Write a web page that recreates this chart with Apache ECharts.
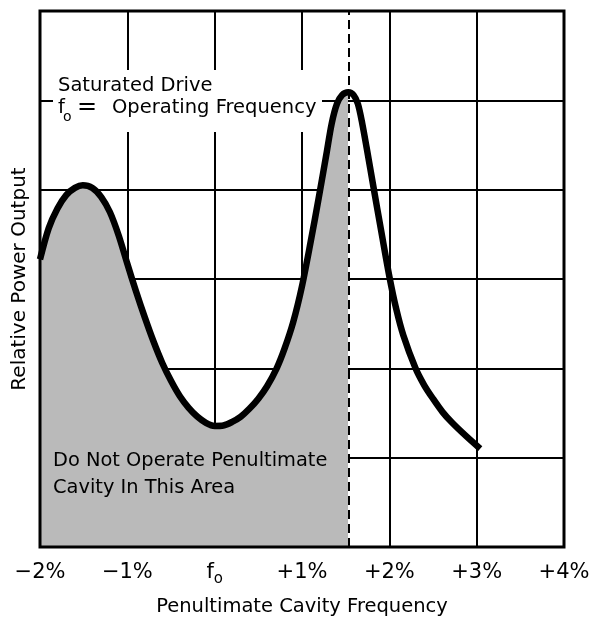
<!DOCTYPE html>
<html>
<head>
<meta charset="utf-8">
<script src="https://cdn.jsdelivr.net/npm/echarts@6/dist/echarts.min.js"></script>
<style>
html,body{margin:0;padding:0;background:#fff;}
#chart{width:596px;height:617px;}
</style>
</head>
<body>
<div id="chart"></div>
<script>
// Curve: x = % offset from operating frequency, y = relative power (grid units)
const freqOffset = [-2.0, -1.9, -1.8, -1.7, -1.6, -1.51, -1.4, -1.3, -1.2, -1.1, -1.0, -0.9, -0.8, -0.7, -0.6, -0.5, -0.4, -0.3, -0.2, -0.1,
                    0.0, 0.1, 0.2, 0.3, 0.4, 0.5, 0.6, 0.71, 0.8, 0.9, 1.0, 1.1, 1.19, 1.28, 1.34, 1.40, 1.46, 1.53,
                    1.59, 1.64, 1.69, 1.74, 1.82, 1.91, 2.0, 2.08, 2.16, 2.30, 2.40, 2.50, 2.61, 2.72, 2.88, 3.04];
const relPower   = [3.22, 3.57, 3.79, 3.94, 4.02, 4.05, 4.02, 3.92, 3.75, 3.49, 3.17, 2.86, 2.57, 2.30, 2.06, 1.86, 1.69, 1.56, 1.46, 1.39,
                    1.355, 1.36, 1.40, 1.46, 1.55, 1.66, 1.80, 2.0, 2.22, 2.52, 2.92, 3.42, 3.90, 4.40, 4.74, 4.96, 5.06, 5.09,
                    5.06, 4.96, 4.74, 4.47, 4.02, 3.52, 3.03, 2.66, 2.37, 2.0, 1.81, 1.66, 1.51, 1.39, 1.24, 1.10];
const operateLimit = 1.53; // dashed line: do not operate to the left
const xTickLabels = ['−2%', '−1%', 'f0', '+1%', '+2%', '+3%', '+4%'];
const xMin = -2, xMax = 4, yMin = 0, yMax = 6;

const FONT = '"DejaVu Sans", "Liberation Sans", sans-serif';
const GRAY = '#bababa';

const chart = echarts.init(document.getElementById('chart'), null, {renderer: 'canvas'});

const dataMin = Math.min(...freqOffset), dataMax = Math.max(...freqOffset);
const cut = (operateLimit - dataMin) / (dataMax - dataMin);

chart.setOption({
  animation: false,
  backgroundColor: '#fff',
  grid: {left: 40, right: 32, top: 11, bottom: 70, containLabel: false, outerBoundsMode: 'none',
         show: true, borderColor: '#000', borderWidth: 3, z: 5},
  xAxis: {
    type: 'value', min: xMin, max: xMax, interval: 1, z: 3,
    axisLine: {show: false},
    axisTick: {show: false},
    splitLine: {show: true, lineStyle: {color: '#000', width: 2}},
    axisLabel: {
      margin: 12,
      formatter: function (v) {
        const lab = xTickLabels[Math.round(v - xMin)];
        if (lab === 'f0') return '{m|f}{s|o}';
        return '{m|' + lab + '}';
      },
      rich: {
        m: {fontFamily: FONT, fontSize: 21, color: '#000', lineHeight: 28},
        s: {fontFamily: FONT, fontSize: 15, color: '#000', lineHeight: 14, verticalAlign: 'bottom'}
      }
    },
    name: 'Penultimate Cavity Frequency',
    nameLocation: 'middle',
    nameGap: 50,
    nameTextStyle: {fontFamily: FONT, fontSize: 19.5, color: '#000'}
  },
  yAxis: {
    type: 'value', min: yMin, max: yMax, interval: 1, z: 3,
    axisLine: {show: false},
    axisTick: {show: false},
    axisLabel: {show: false},
    splitLine: {show: true, lineStyle: {color: '#000', width: 2}},
    name: 'Relative Power Output',
    nameLocation: 'middle',
    nameGap: 10,
    nameTextStyle: {fontFamily: FONT, fontSize: 20, color: '#000'}
  },
  series: [{
    type: 'line',
    data: freqOffset.map((x, i) => [x, relPower[i]]),
    smooth: 0.3,
    showSymbol: false,
    lineStyle: {color: '#000', width: 6.5, cap: 'butt', join: 'round'},
    areaStyle: {
      opacity: 1,
      color: {
        type: 'linear', x: 0, y: 0, x2: 1, y2: 0,
        colorStops: [
          {offset: 0, color: GRAY},
          {offset: cut, color: GRAY},
          {offset: cut, color: 'rgba(255,255,255,0)'},
          {offset: 1, color: 'rgba(255,255,255,0)'}
        ]
      }
    },
    markLine: {
      silent: true,
      symbol: 'none',
      label: {show: false},
      lineStyle: {type: [9, 5], color: '#000', width: 2},
      data: [{xAxis: operateLimit}]
    }
  }],
  graphic: [
    {type: 'rect', z: 10, shape: {x: 53, y: 70, width: 269, height: 62}, style: {fill: '#fff'}},
    {type: 'text', z: 11, x: 58, y: 86, style: {text: 'Saturated Drive', font: '19.5px ' + FONT, fill: '#000', verticalAlign: 'middle'}},
    {type: 'text', z: 11, x: 58, y: 108, style: {text: 'f', font: '19.5px ' + FONT, fill: '#000', verticalAlign: 'middle'}},
    {type: 'text', z: 11, x: 63, y: 117, style: {text: 'o', font: '14px ' + FONT, fill: '#000', verticalAlign: 'middle'}},
    {type: 'text', z: 11, x: 77, y: 108, style: {text: '=', font: '24px ' + FONT, fill: '#000', verticalAlign: 'middle'}},
    {type: 'text', z: 11, x: 112, y: 108, style: {text: 'Operating Frequency', font: '19.5px ' + FONT, fill: '#000', verticalAlign: 'middle'}},
    {type: 'rect', z: 10, shape: {x: 52, y: 447, width: 278, height: 58}, style: {fill: GRAY}},
    {type: 'text', z: 11, x: 53, y: 461, style: {text: 'Do Not Operate Penultimate', font: '19.4px ' + FONT, fill: '#000', verticalAlign: 'middle'}},
    {type: 'text', z: 11, x: 53, y: 488, style: {text: 'Cavity In This Area', font: '19.4px ' + FONT, fill: '#000', verticalAlign: 'middle'}}
  ]
});
</script>
</body>
</html>
